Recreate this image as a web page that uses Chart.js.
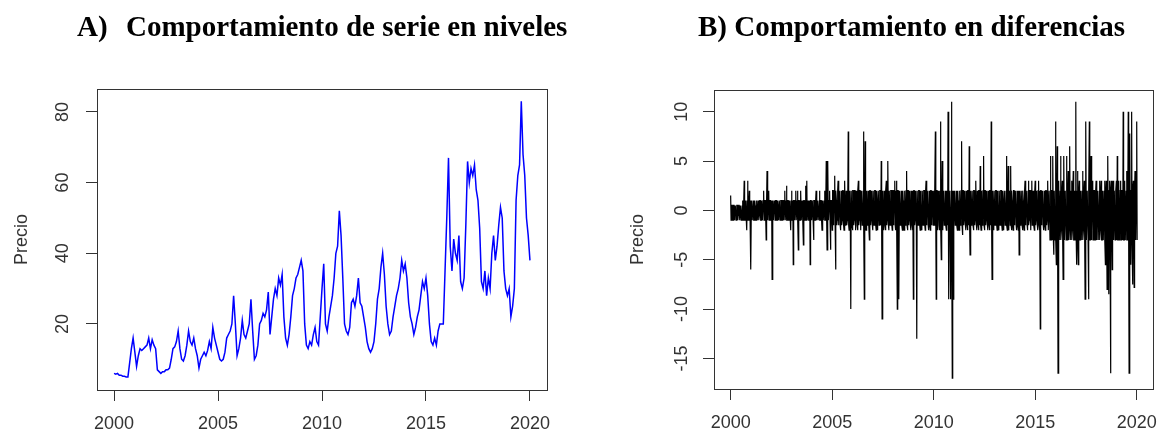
<!DOCTYPE html>
<html><head><meta charset="utf-8">
<script src="https://cdn.jsdelivr.net/npm/chart.js@4.4.1/dist/chart.umd.min.js"></script>
<style>
html,body{margin:0;padding:0;background:#fff;width:1169px;height:434px;overflow:hidden;}
#wrap{position:relative;width:1169px;height:434px;}
.title{position:absolute;top:12px;font:bold 29px "Liberation Serif","Times New Roman",serif;line-height:1;color:#000;white-space:nowrap;}
#c1{position:absolute;left:0;top:0;}
#c2{position:absolute;left:584px;top:0;}
</style></head><body>
<div id="wrap">
<canvas id="c1" width="584" height="434"></canvas>
<canvas id="c2" width="585" height="434"></canvas>
<div class="title" style="left:77px">A)</div>
<div class="title" style="left:126px">Comportamiento de serie en niveles</div>
<div class="title" style="left:698px">B) Comportamiento en diferencias</div>
</div>
<script>
// ---- data ----
const levelStart = 2000, levelFreq = 12;
const levelValues = [
 6,5.8,6,5.5,5.5,5.2,5.2,5,5,9,13,16,
 12,8,11,13,12.5,13,13.5,14,16,13,15.5,14,
 13,7,6.5,6,6.5,6.5,7,7,7.5,10,13,13.5,
 15,18,13,10,9.5,11,14,18,15,14,16,13,
 11,7.5,10,11,12,11,12.5,15,13,19,16,14,
 12,10,9.5,10,12,16,17,18,20,28,20,11,
 13,16,21,17,16,18,20,27,18,10,11,14,
 20,21,23,22,24,29,17,22,27,30,28,33,
 31,34,22,16,14,17,22,28,30,33,34,36,
 38,35,20,14,13,15,14,17,19,15,14,22,
 30,37,20,18,22,25,28,33,40,42,52,45,
 33,20,18,17,19,26,27,25,28,33,26,25,
 22,19,15,13,12,13,15,20,27,30,36,40,
 34,25,20,17,18,22,25,28,30,33,38,35,
 37,33,26,22,20,17,19,22,24,28,32,30,
 33,28,20,15,14,16,14,18,20,20,20,35,
 50,67,42,35,44,40,38,45,32,30,33,48,
 66,60,64,62,65,58,55,47,32,30,35,28,
 33,30,40,45,38,42,48,53,50,35,30,28,
 30,22,25,30,55,62,65,83,68,62,50,45,
 38
];
const diffStart = 2000, diffFreq = 48;
const diffValues = [
 1.5,-1,-1,0.5,0.5,-1,-1,0.5,0.5,-1,-0.5,0.5,0.5,-1,-1,0.5,0.5,-1,-0.5,0.5,0.5,-1,-1,0.5,0.5,-1,-0.5,0.5,1,-1,-1,1,3,-1,-1,1,1,-1,-2,1,3,-1,-1,1,2,-1,-1,1,
 -6,1,1,-1,-1,1,1,-1,-1,1,0.5,-1,-1,1,1,-1,-1,1,1,-1,-0.5,1,1,-1,-1,1,1,-1,-1,1,2,-1,-1,1,1,-1,-3,1,4,-1,-1,1,2,-1,-1,1,1,-1,
 -1,1,-7,1,1,-1,-1,1,0.5,-1,-0.5,1,1,-1,-1,1,0.5,-1,-1,1,1,-1,-0.5,1,1,-1,-1,1,1,-1,-1,1,2,-1,-1,1,2.5,-1,-1,1,1,-1,-1,1,1,-1,-2,1,
 2,-1,-1,1,-5.5,1,1,-1,-1,1,2,-1,-1,1,2,-1,-4,1,1,-1,-1,1,2,-1,-1,1,1,-1,-3.5,1,1,-1,-1,1,2.5,-1,3,-1,-1,1,1,-1,-1,1,-5.5,1,1,-1,
 -1,1,1,-1,-3,1,1,-1,-1,1,2,-1,-1,1,1,-1,-1,1,2,-1,-1,1,1,-1,-2,1,1,-1,-1,1,2,-1,-1,1,5,-1,-4,1,5,-1,-1,1,2,-1,-4,1,1,-1,
 -2,2,2,-1.5,-1,2,3.5,-1.5,-6,2,1,-1.5,-1,2,3,-1.5,-1,2,2,-1.5,-2,2,1,-1.5,-1,2,2,-1.5,-2,2,3,-1.5,-1,2,2,-1.5,-1,2,8,-1.5,-2,2,2,-1.5,-10,2,2,-1.5,
 -2,2,2,-1.5,-1,2,2,-1.5,-2,2,1,-1.5,-2,2,3,-1.5,-1,2,2,-1.5,-2,2,2,-1.5,-1,2,8,-1.5,-9,2,7,-1.5,-2,2,2,-1.5,-1,2,2,-1.5,-3,2,2,-1.5,-1,2,2,-1.5,
 -2,2,2,-1.5,-1,2,2,-1.5,-2,2,1,-1.5,-2,2,2,-1.5,-1,2,2,-1.5,5,-1.5,-11,2,2,-1.5,-2,2,1,-1.5,-2,2,3,-1.5,-1,2,5,-1.5,-2,2,2,-1.5,-1,2,2,-1.5,-2,2,
 2,-1.5,-1,2,3,-1.5,-2,2,3,-1.5,-10,2,2,-1.5,-9,2,2,-1.5,-1,2,2,-1.5,-2,2,1,-1.5,-2,2,2,-1.5,-1,2,4,-1.5,-2,2,2,-1.5,-1,2,2,-1.5,-2,2,1,-1.5,-2,2,
 -9,2,2,-1.5,-1,2,2,-1.5,-13,2,2,-1.5,-1,2,2,-1.5,-2,2,1,-1.5,-2,2,2,-1.5,-1,2,2,-1.5,-2,2,3,-1.5,-1,2,2,-1.5,-2,2,1,-1.5,-2,2,2,-1.5,-1,2,2,-1.5,
 2,-1.5,-1,2,8,-1.5,-9,2,2,-1.5,-2,2,1,-1.5,-2,2,9,-1.5,-5,2,5,-1.5,-2,2,2,-1.5,-1,2,2,-1.5,-2,2,1,-1.5,10,-1.5,-9,2,2,-1.5,-9,2,11,-1.5,-17,2,-9,2,
 -2,2,2,-1.5,-1,2,2,-1.5,-2,2,1,-1.5,-2,2,2,-1.5,-1,2,7,-1.5,-2.5,2,2,-1.5,-1,2,2,-1.5,-2,2,1,-1.5,-2,2,2,-1.5,6.5,-1.5,-4.5,2,2,-1.5,-1,2,2,-1.5,-2,2,
 2,-1.5,-1,2,3,-1.5,-2,2,1,-1.5,-2,2,2,-1.5,4.5,-1.5,-2,2,2,-1.5,-1,2,5.5,-1.5,-2,2,2,-1.5,-1,2,2,-1.5,-2,2,1,-1.5,-2,2,2,-1.5,9,-1.5,-7,2,2,-1.5,-2,2,
 2,-1.5,-1,2,2,-1.5,-2,2,1,-1.5,-2,2,2,-1.5,-1,2,2,-1.5,-2,2,1,-1.5,-2,2,2,-1.5,-1,2,5.5,-1.5,-2,2,4.5,-1.5,-2,2,2,-1.5,4.5,-1.5,-2,2,1,-1.5,-2,2,2,-1.5,
 -1,2,2,-1.5,-2,2,1,-1.5,-2,2,-4.5,2,2,-1.5,-1,2,2,-1.5,-2,2,1,-1.5,-2,2,3,-1.5,-1,2,2,-1.5,-2,2,3,-1.5,-1,2,2,-1.5,-2,2,3,-1.5,-1,2,2,-1.5,-2,2,
 3,-1.5,-1,2,2,-1.5,-2,2,3,-1.5,-2,2,-12,2,2,-1.5,-1,2,2,-1.5,-2,2,1,-1.5,-2,2,2,-1.5,-1,2,3,-2,-2,2,2,-3,5.5,-2,-3,2,2,-3,5.5,-3,-4.5,2,2,-3,
 9,-3,-5.5,2,6.5,-3,-16.5,2,3,-3,-3,2,5.5,-3,-2,2,3,-3,-7,2,5.5,-3,-3,2,2,-3,5.5,-3,-3,2,4,-3,-2,2,6.5,-3,-3,2,3,-3,-2,2,4,-3,-3,2,2,-3,
 11,-3,-5.5,2,4,-3,-5.5,2,3,-3,-3,2,2,-3,-3,2,4,-3,-2,2,3,-3,-9,2,9,-3,-3,2,2,-3,-9,2,9,-3,-3,2,5.5,-3,-2,2,3,-3,-3,2,2,-3,-3,2,
 3,-3,-2,2,2,-3,-3,2,3,-3,-2,2,3,-3,-3,2,2,-3,-3,2,3,-3,-5.5,2,3,-3,-8,2,5.5,-3,-8.5,2,3,-3,-16.5,2,3,-3,-6,2,3,-3,-3,2,2,-3,-3,2,
 3,-3,5.5,-3,-3,2,3,-3,-2,2,3,-3,-3,2,2,-3,10,-3,-3,2,3,-3,-3,2,4,-3,-3,2,10,-3,-16.5,2,7.8,-3,-5.5,2,10,-3,-7.5,2,3,-3,-7.8,2,4,-3,-3,2,
 9,-3
];
const xTickValues = [2000, 2005, 2010, 2015, 2020];
const levelTicks = [20, 40, 60, 80];
const diffTicks = [-15, -10, -5, 0, 5, 10];
const yLabel = 'Precio';

// ---- build points (time index like an R ts) ----
const levelPoints = levelValues.map((v, i) => ({x: levelStart + i / levelFreq, y: v}));
const diffPoints = diffValues.map((v, i) => ({x: diffStart + i / diffFreq, y: v}));

const FONT = '"Liberation Sans", Arial, sans-serif';
const INK = '#333';

const framePlugin = {
  id: 'frame',
  afterDraw(chart, args, o) {
    const {ctx, chartArea: a} = chart;
    ctx.save();
    ctx.strokeStyle = INK; ctx.lineWidth = 1;
    ctx.strokeRect(Math.round(a.left) + 0.5, Math.round(a.top) + 0.5,
                   Math.round(a.right - a.left), Math.round(a.bottom - a.top));
    const ys = chart.scales.y;
    ctx.fillStyle = INK;
    ctx.font = '18px ' + FONT;
    ctx.textAlign = 'center'; ctx.textBaseline = 'middle';
    ys.ticks.forEach(t => {
      const y = ys.getPixelForValue(t.value);
      ctx.save(); ctx.translate(o.labelX, y); ctx.rotate(-Math.PI / 2);
      ctx.fillText(String(t.value), 0, 0); ctx.restore();
    });
    ctx.restore();
  }
};

function makeChart(id, pts, color, lw, cfg) {
  return new Chart(document.getElementById(id), {
    type: 'line',
    data: {datasets: [{data: pts, borderColor: color, borderWidth: lw, pointRadius: 0,
                       tension: 0, fill: false, borderJoinStyle: 'miter'}]},
    options: {
      responsive: false, animation: false, devicePixelRatio: 1,
      layout: {padding: cfg.padding},
      plugins: {legend: {display: false}, tooltip: {enabled: false}, frame: {labelX: cfg.labelX}},
      scales: {
        x: {type: 'linear', min: 1999.18, max: 2020.82,
            afterBuildTicks: s => { s.ticks = xTickValues.map(v => ({value: v})); },
            afterFit: s => { s.height = cfg.xh; },
            grid: {drawOnChartArea: false, drawTicks: true, tickLength: 11, color: INK, lineWidth: 1},
            border: {display: false},
            ticks: {font: {size: 18, family: FONT}, color: INK, padding: 12, maxRotation: 0,
                    autoSkip: false, callback: v => String(v)}},
        y: {type: 'linear', min: cfg.ymin, max: cfg.ymax,
            afterBuildTicks: s => { s.ticks = cfg.yticks.map(v => ({value: v})); },
            afterFit: s => { s.width = cfg.yw; },
            grid: {drawOnChartArea: false, drawTicks: true, tickLength: 11, color: INK, lineWidth: 1},
            border: {display: false},
            ticks: {display: false},
            title: {display: true, text: yLabel, color: INK, font: {size: 18, family: FONT},
                    padding: {top: cfg.titlePad, bottom: 0}}}
      }
    },
    plugins: [framePlugin]
  });
}

makeChart('c1', levelPoints, '#0000ff', 1.5,
  {padding: {left: 0, right: 37, top: 89, bottom: 0}, xh: 44, yw: 97, labelX: 63,
   ymin: 1.3, ymax: 86.5, yticks: levelTicks, titlePad: 11});
makeChart('c2', diffPoints, '#000000', 1.2,
  {padding: {left: 0, right: 7, top: 90, bottom: 0}, xh: 45, yw: 130, labelX: 98,
   ymin: -18.1, ymax: 12.2, yticks: diffTicks, titlePad: 43});
</script>
</body></html>
